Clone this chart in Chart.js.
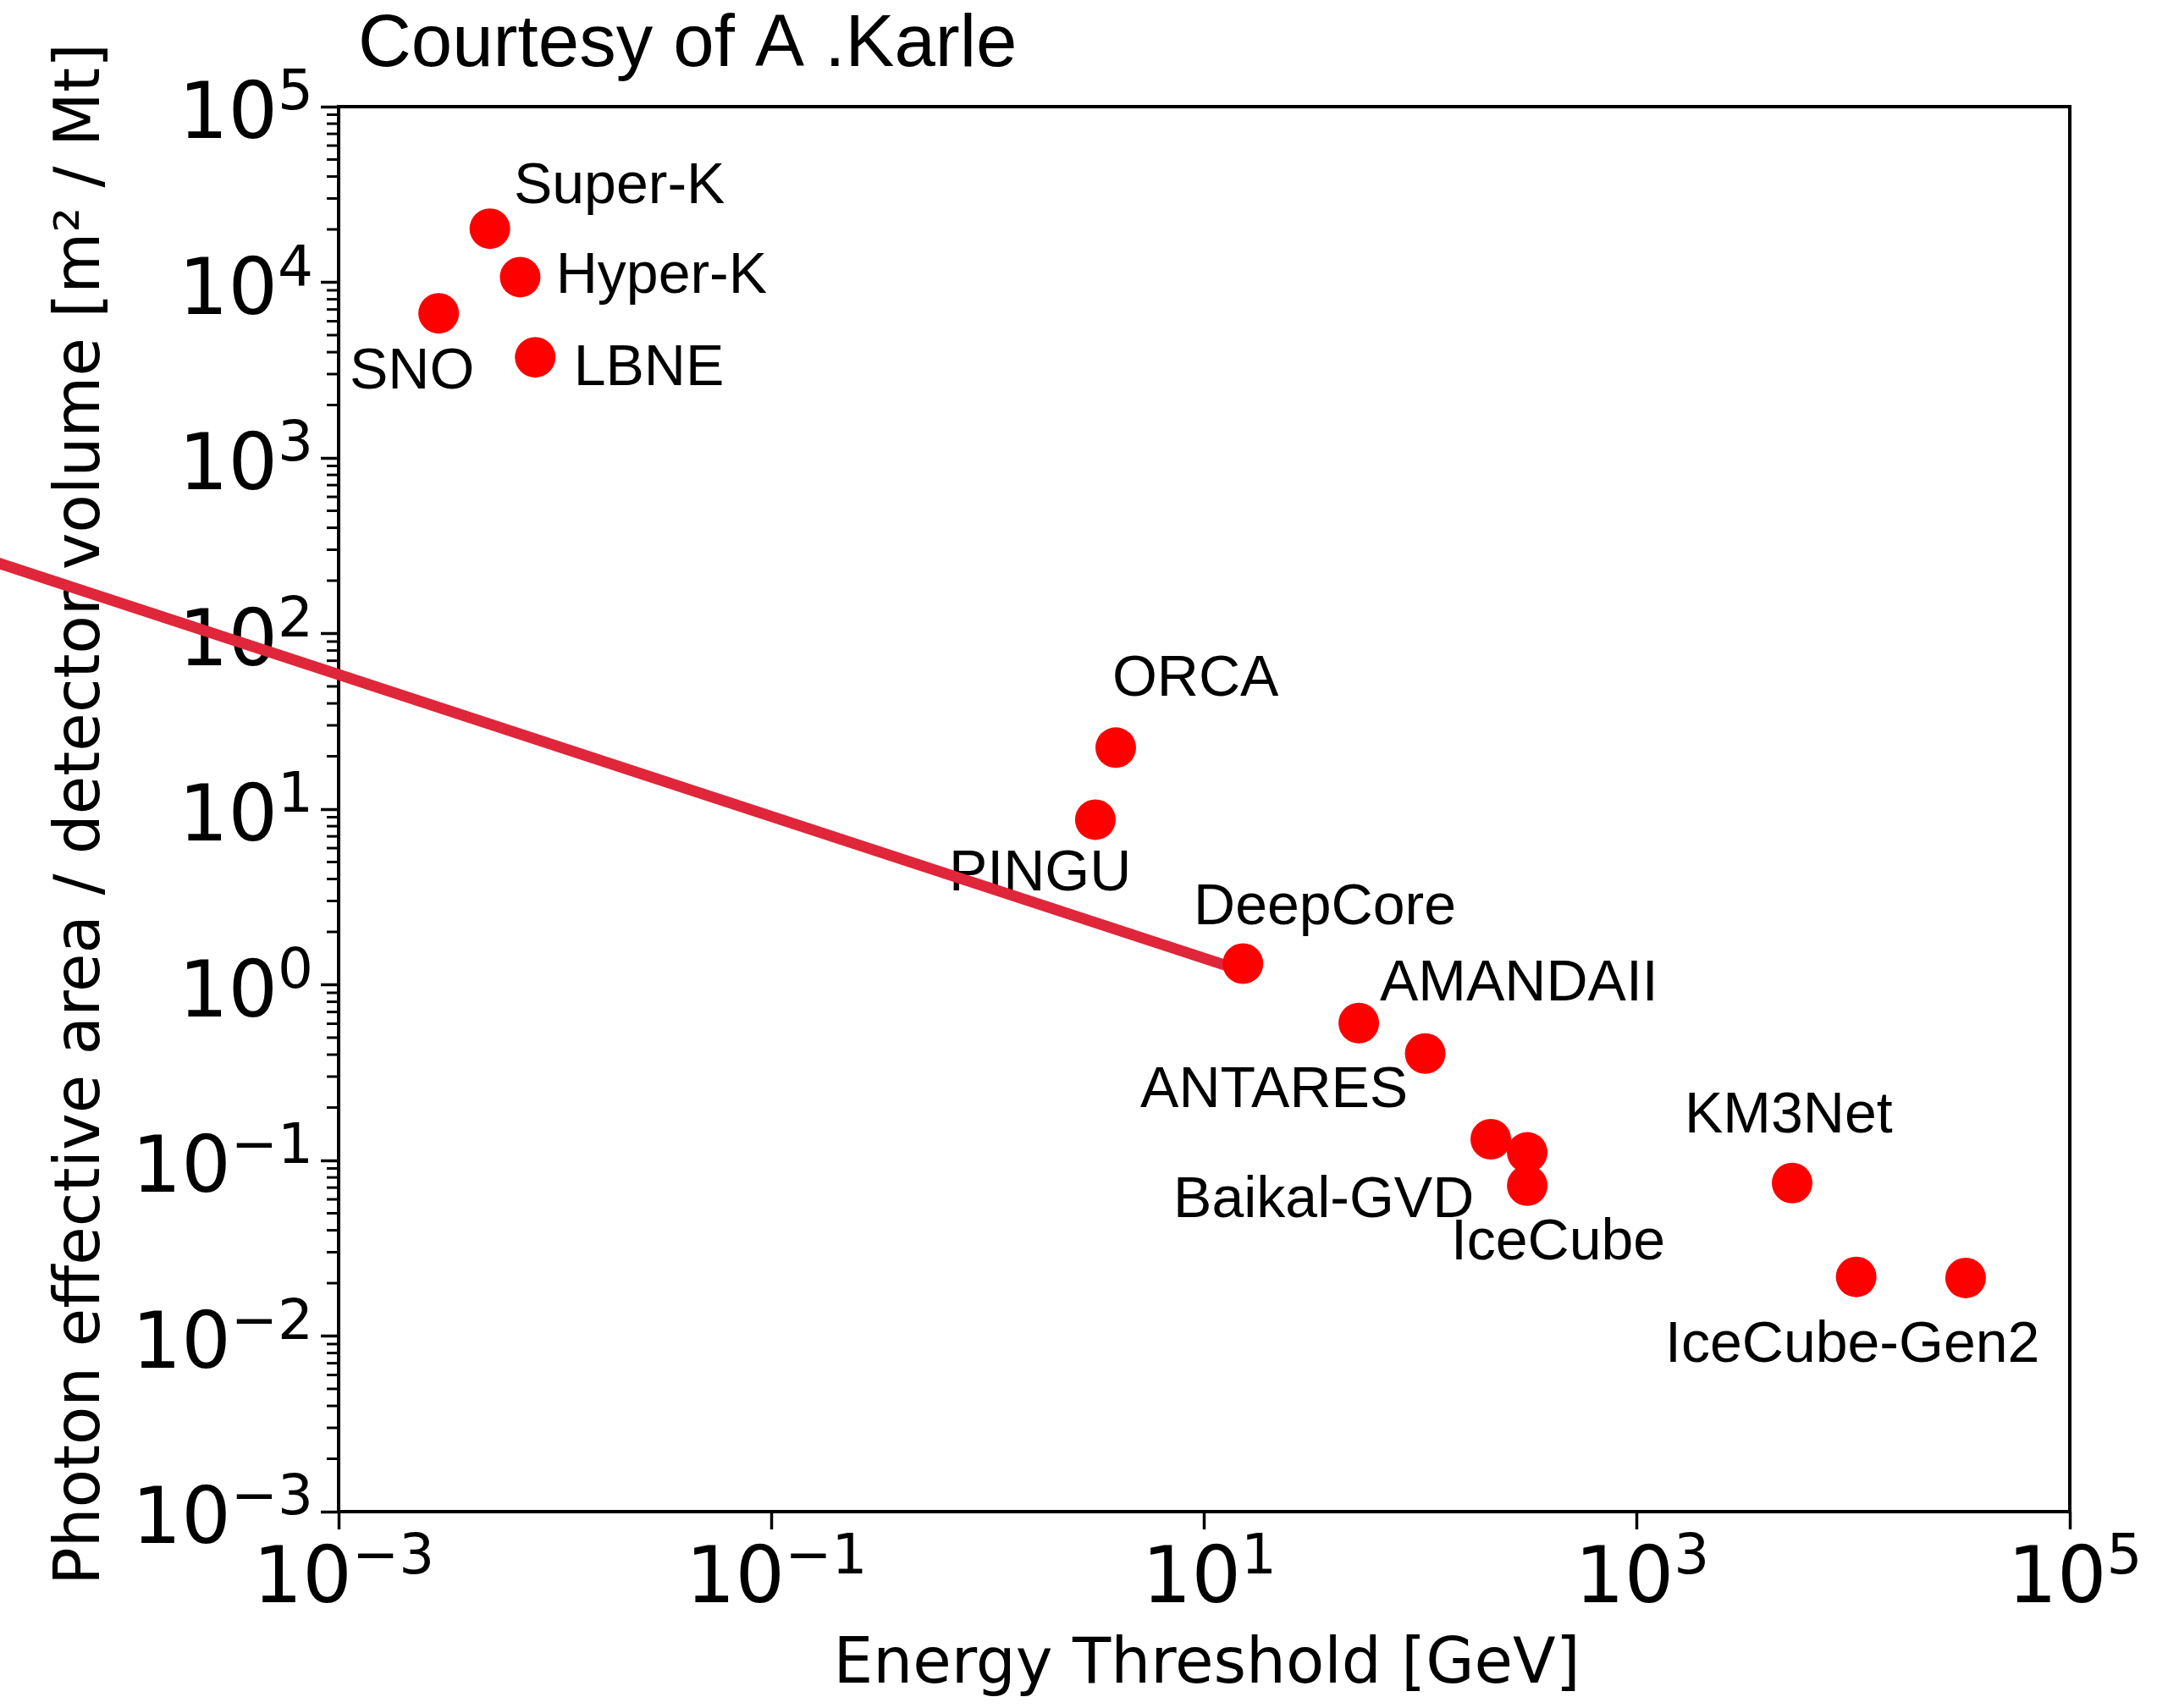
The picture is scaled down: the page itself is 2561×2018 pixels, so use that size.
<!DOCTYPE html>
<html lang="en">
<head>
<meta charset="UTF-8">
<title>Photon effective area vs energy threshold</title>
<script src="https://cdn.jsdelivr.net/npm/chart.js"></script>
<style>
    html, body { margin: 0; padding: 0; background: #fff; }
    #wrap { width: 2561px; height: 2018px; }
</style>
</head>
<body>
<div id="wrap"><canvas id="myChart" width="2561" height="2018"></canvas></div>
<script>
// detectors: energy threshold [GeV] and photon effective area / volume [m^2 / Mt]
const detectors = ['SNO', 'Super-K', 'Hyper-K', 'LBNE', 'ORCA', 'PINGU', 'DeepCore', 'AMANDAII',
    'ANTARES', 'Baikal-GVD', 'IceCube', 'IceCube', 'KM3Net', 'IceCube-Gen2', 'IceCube-Gen2'];
const energyThreshold = [2.9e-3, 5.0e-3, 6.9e-3, 8.1e-3, 3.9, 3.14, 15.1, 51.8,
    105, 211, 311, 311, 5210, 10300, 33000];
const photonArea = [6660, 20200, 10700, 3740, 22.4, 8.71, 1.32, 0.605,
    0.406, 0.132, 0.111, 0.0719, 0.0743, 0.0217, 0.0214];

// text annotations, anchored in data units (left / baseline)
const labelNames = ['Super-K', 'Hyper-K', 'SNO', 'LBNE', 'ORCA', 'PINGU', 'DeepCore', 'AMANDAII',
    'ANTARES', 'KM3Net', 'Baikal-GVD', 'IceCube', 'IceCube-Gen2'];
const labelX = [6.45e-3, 1.01e-2, 1.124e-3, 1.22e-2, 3.76, 0.661, 8.94, 64.8,
    5.07, 1660, 7.20, 138, 1350];
const labelY = [28200, 8690, 2480, 2590, 44.0, 3.46, 2.20, 0.818,
    0.2018, 0.1446, 0.0477, 0.02735, 0.00714];

// red guide line ending at DeepCore
const lineX = [2.6e-5, 12.6];
const lineY = [255, 1.29];

const xTickValues = [1e-3, 1e-1, 1e1, 1e3, 1e5];
const xTickExp = ['\u22123', '\u22121', '1', '3', '5'];
const yTickValues = [1e-3, 1e-2, 1e-1, 1e0, 1e1, 1e2, 1e3, 1e4, 1e5];
const yTickExp = ['\u22123', '\u22122', '\u22121', '0', '1', '2', '3', '4', '5'];

const titleText = 'Courtesy of A .Karle';
const xTitle = 'Energy Threshold [GeV]';
const yTitle = 'Photon effective area / detector volume [m\u00b2 / Mt]';

const BIG = '92px "DejaVu Sans"';
const SMALL = '66px "DejaVu Sans"';

function drawPower(ctx, exp, x, baseY, align) {
    ctx.font = BIG;
    const wb = ctx.measureText('10').width;
    ctx.font = SMALL;
    const we = ctx.measureText(exp).width;
    const total = wb + we;
    const x0 = align === 'right' ? x - total : x - total / 2;
    ctx.textAlign = 'left';
    ctx.textBaseline = 'alphabetic';
    ctx.font = BIG;
    ctx.fillText('10', x0, baseY);
    ctx.font = SMALL;
    ctx.fillText(exp, x0 + wb, baseY - 34);
}

const decor = {
    id: 'decor',
    beforeDatasetsDraw(chart) {
        const { ctx, chartArea: a, scales: { x, y } } = chart;
        ctx.save();
        ctx.fillStyle = '#000';
        ctx.strokeStyle = '#000';

        // minor ticks on y axis
        ctx.lineWidth = 3;
        for (let e = -3; e < 5; e++) {
            for (let k = 2; k < 10; k++) {
                const py = y.getPixelForValue(k * Math.pow(10, e));
                ctx.beginPath();
                ctx.moveTo(a.left - 14, py);
                ctx.lineTo(a.left, py);
                ctx.stroke();
            }
        }

        // frame
        ctx.lineWidth = 4;
        ctx.strokeRect(a.left, a.top, a.right - a.left, a.bottom - a.top);

        // tick labels
        yTickValues.forEach((v, i) => {
            const py = y.getPixelForValue(v);
            drawPower(ctx, yTickExp[i], a.left - 30, py + 37, 'right');
        });
        xTickValues.forEach((v, i) => {
            const px = x.getPixelForValue(v);
            drawPower(ctx, xTickExp[i], px + 6, a.bottom + 107, 'center');
        });

        // axis titles
        ctx.font = '74px "DejaVu Sans"';
        ctx.textAlign = 'center';
        ctx.textBaseline = 'alphabetic';
        ctx.fillText(xTitle, (a.left + a.right) / 2 + 3, a.bottom + 202);
        ctx.save();
        ctx.translate(117, (a.top + a.bottom) / 2 + 6);
        ctx.rotate(-Math.PI / 2);
        ctx.fillText(yTitle, 0, 0);
        ctx.restore();

        // title
        ctx.font = '87px "Liberation Sans"';
        ctx.textAlign = 'left';
        ctx.fillText(titleText, 423, 78);

        // detector names
        ctx.font = '68px "Liberation Sans"';
        labelNames.forEach((name, i) => {
            ctx.fillText(name, x.getPixelForValue(labelX[i]), y.getPixelForValue(labelY[i]));
        });
        ctx.restore();
    }
};

const ctx = document.getElementById('myChart').getContext('2d');

new Chart(ctx, {
    type: 'scatter',
    data: {
        datasets: [{
            label: 'Detectors',
            data: detectors.map((d, i) => ({ x: energyThreshold[i], y: photonArea[i] })),
            backgroundColor: '#ff0000',
            borderWidth: 0,
            pointRadius: 24,
            order: 0
        }, {
            type: 'line',
            label: 'guide',
            data: lineX.map((v, i) => ({ x: v, y: lineY[i] })),
            borderColor: '#e0263a',
            borderWidth: 13,
            borderCapStyle: 'butt',
            pointRadius: 0,
            fill: false,
            clip: false,
            order: 1
        }]
    },
    options: {
        responsive: false,
        devicePixelRatio: 1,
        animation: false,
        layout: { padding: { left: 379, right: 116, top: 126, bottom: 211 } },
        plugins: { legend: { display: false }, tooltip: { enabled: false } },
        scales: {
            x: {
                type: 'logarithmic',
                min: 1e-3,
                max: 1e5,
                afterBuildTicks: (s) => { s.ticks = xTickValues.map(v => ({ value: v })); },
                ticks: { display: false },
                border: { display: false },
                grid: { display: true, drawOnChartArea: false, drawTicks: true, tickLength: 21, tickWidth: 3.5, tickColor: '#000' }
            },
            y: {
                type: 'logarithmic',
                min: 1e-3,
                max: 1e5,
                afterBuildTicks: (s) => { s.ticks = yTickValues.map(v => ({ value: v })); },
                ticks: { display: false },
                border: { display: false },
                grid: { display: true, drawOnChartArea: false, drawTicks: true, tickLength: 21, tickWidth: 3.5, tickColor: '#000' }
            }
        }
    },
    plugins: [decor]
});
</script>
</body>
</html>
